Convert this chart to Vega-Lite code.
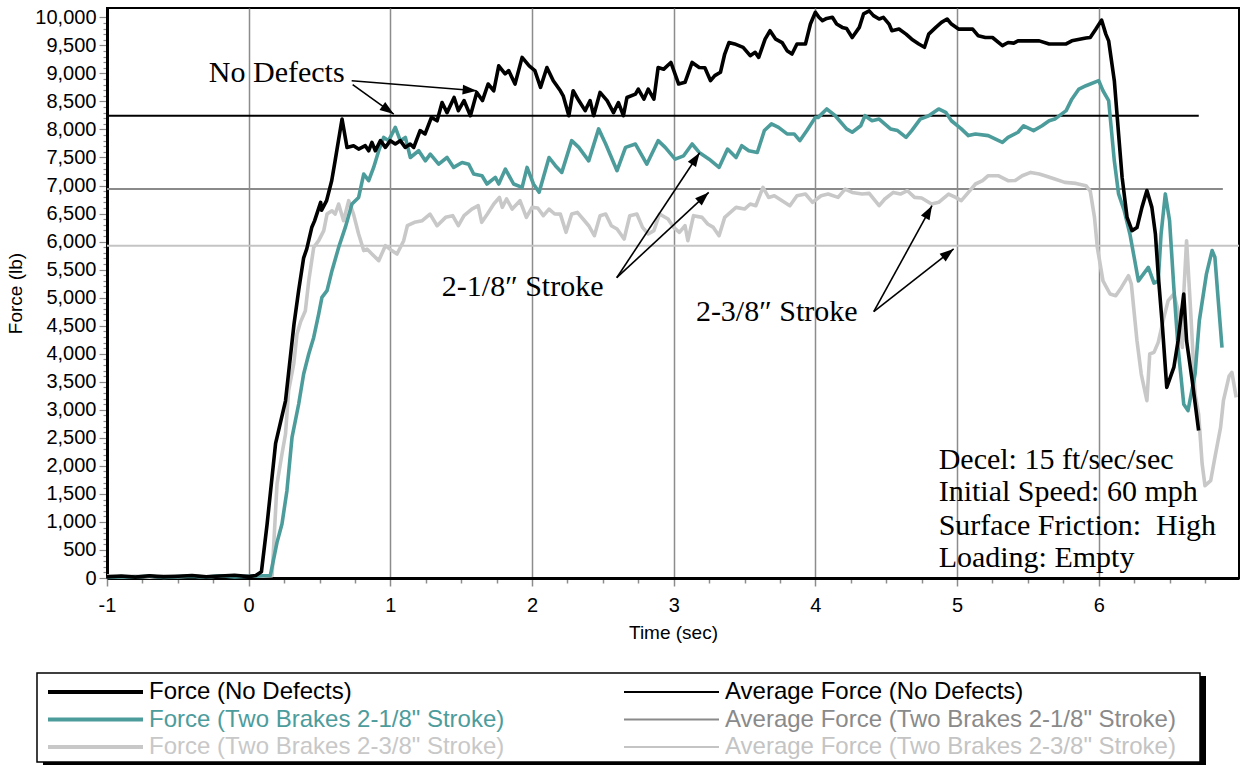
{
"$schema": "https://vega.github.io/schema/vega-lite/v6.json",
"background": "white",
"padding": {"left": 5, "top": 6, "right": 0, "bottom": 0},
"config": {"view": {"stroke": null}, "font": "Liberation Sans", "axis": {"labelOverlap": false, "labelBound": false, "labelFlush": false}},
"spacing": 29,
"resolve": {"scale": {"x": "independent", "y": "independent", "color": "independent"}},
"datasets": {
"avg": [
{"s":"AND","t0":-1,"t1":6.706,"F":8245},
{"s":"A21","t0":-1,"t1":6.876,"F":6937},
{"s":"A23","t0":-1,"t1":6.99,"F":5927}
],
"force": [
{"s":"S23","t":-1,"F":40},{"s":"S23","t":-0.9,"F":20},{"s":"S23","t":-0.8,"F":35},{"s":"S23","t":-0.7,"F":15},{"s":"S23","t":-0.6,"F":40},{"s":"S23","t":-0.5,"F":25},{"s":"S23","t":-0.4,"F":35},{"s":"S23","t":-0.3,"F":20},{"s":"S23","t":-0.2,"F":40},{"s":"S23","t":-0.1,"F":30},{"s":"S23","t":0,"F":35},{"s":"S23","t":0.1,"F":30},{"s":"S23","t":0.165,"F":40},{"s":"S23","t":0.2,"F":1676},{"s":"S23","t":0.235,"F":2211},{"s":"S23","t":0.26,"F":2568},{"s":"S23","t":0.282,"F":3340},{"s":"S23","t":0.318,"F":3817},{"s":"S23","t":0.341,"F":4351},{"s":"S23","t":0.365,"F":4559},{"s":"S23","t":0.4,"F":4767},{"s":"S23","t":0.424,"F":5300},{"s":"S23","t":0.459,"F":5896},{"s":"S23","t":0.494,"F":6016},{"s":"S23","t":0.53,"F":6195},{"s":"S23","t":0.553,"F":6490},{"s":"S23","t":0.588,"F":6550},{"s":"S23","t":0.61,"F":6490},{"s":"S23","t":0.635,"F":6670},{"s":"S23","t":0.67,"F":6373},{"s":"S23","t":0.706,"F":6730},{"s":"S23","t":0.74,"F":6490},{"s":"S23","t":0.776,"F":6135},{"s":"S23","t":0.812,"F":5840},{"s":"S23","t":0.835,"F":5866},{"s":"S23","t":0.87,"F":5778},{"s":"S23","t":0.918,"F":5660},{"s":"S23","t":0.965,"F":5927},{"s":"S23","t":1.01,"F":5840},{"s":"S23","t":1.047,"F":5778},{"s":"S23","t":1.094,"F":6016},{"s":"S23","t":1.12,"F":6283},{"s":"S23","t":1.17,"F":6343},{"s":"S23","t":1.225,"F":6373},{"s":"S23","t":1.28,"F":6490},{"s":"S23","t":1.33,"F":6283},{"s":"S23","t":1.39,"F":6432},{"s":"S23","t":1.44,"F":6462},{"s":"S23","t":1.48,"F":6283},{"s":"S23","t":1.52,"F":6462},{"s":"S23","t":1.575,"F":6580},{"s":"S23","t":1.62,"F":6640},{"s":"S23","t":1.645,"F":6343},{"s":"S23","t":1.685,"F":6492},{"s":"S23","t":1.73,"F":6670},{"s":"S23","t":1.77,"F":6788},{"s":"S23","t":1.79,"F":6610},{"s":"S23","t":1.82,"F":6760},{"s":"S23","t":1.86,"F":6580},{"s":"S23","t":1.915,"F":6730},{"s":"S23","t":1.96,"F":6432},{"s":"S23","t":2.0,"F":6610},{"s":"S23","t":2.04,"F":6600},{"s":"S23","t":2.08,"F":6462},{"s":"S23","t":2.12,"F":6580},{"s":"S23","t":2.16,"F":6492},{"s":"S23","t":2.2,"F":6490},{"s":"S23","t":2.24,"F":6165},{"s":"S23","t":2.28,"F":6492},{"s":"S23","t":2.32,"F":6520},{"s":"S23","t":2.36,"F":6403},{"s":"S23","t":2.4,"F":6283},{"s":"S23","t":2.44,"F":6105},{"s":"S23","t":2.48,"F":6462},{"s":"S23","t":2.52,"F":6492},{"s":"S23","t":2.56,"F":6283},{"s":"S23","t":2.6,"F":6224},{"s":"S23","t":2.65,"F":6046},{"s":"S23","t":2.69,"F":6462},{"s":"S23","t":2.74,"F":6492},{"s":"S23","t":2.78,"F":6253},{"s":"S23","t":2.82,"F":6135},{"s":"S23","t":2.86,"F":6195},{"s":"S23","t":2.9,"F":6492},{"s":"S23","t":2.96,"F":6403},{"s":"S23","t":3.0,"F":6253},{"s":"S23","t":3.04,"F":6165},{"s":"S23","t":3.08,"F":6283},{"s":"S23","t":3.1,"F":6016},{"s":"S23","t":3.14,"F":6462},{"s":"S23","t":3.2,"F":6432},{"s":"S23","t":3.24,"F":6313},{"s":"S23","t":3.28,"F":6253},{"s":"S23","t":3.32,"F":6105},{"s":"S23","t":3.36,"F":6432},{"s":"S23","t":3.4,"F":6520},{"s":"S23","t":3.44,"F":6610},{"s":"S23","t":3.5,"F":6580},{"s":"S23","t":3.54,"F":6670},{"s":"S23","t":3.58,"F":6640},{"s":"S23","t":3.63,"F":6966},{"s":"S23","t":3.67,"F":6788},{"s":"S23","t":3.71,"F":6818},{"s":"S23","t":3.765,"F":6730},{"s":"S23","t":3.82,"F":6640},{"s":"S23","t":3.87,"F":6818},{"s":"S23","t":3.93,"F":6848},{"s":"S23","t":3.98,"F":6700},{"s":"S23","t":4.04,"F":6818},{"s":"S23","t":4.09,"F":6848},{"s":"S23","t":4.16,"F":6788},{"s":"S23","t":4.21,"F":6937},{"s":"S23","t":4.26,"F":6877},{"s":"S23","t":4.33,"F":6848},{"s":"S23","t":4.38,"F":6860},{"s":"S23","t":4.45,"F":6640},{"s":"S23","t":4.49,"F":6760},{"s":"S23","t":4.55,"F":6877},{"s":"S23","t":4.6,"F":6848},{"s":"S23","t":4.65,"F":6907},{"s":"S23","t":4.7,"F":6788},{"s":"S23","t":4.75,"F":6777},{"s":"S23","t":4.82,"F":6670},{"s":"S23","t":4.87,"F":6700},{"s":"S23","t":4.94,"F":6848},{"s":"S23","t":4.99,"F":6788},{"s":"S23","t":5.03,"F":6730},{"s":"S23","t":5.08,"F":6877},{"s":"S23","t":5.13,"F":7027},{"s":"S23","t":5.18,"F":7086},{"s":"S23","t":5.22,"F":7175},{"s":"S23","t":5.29,"F":7175},{"s":"S23","t":5.36,"F":7086},{"s":"S23","t":5.41,"F":7090},{"s":"S23","t":5.46,"F":7175},{"s":"S23","t":5.52,"F":7234},{"s":"S23","t":5.58,"F":7205},{"s":"S23","t":5.62,"F":7175},{"s":"S23","t":5.69,"F":7116},{"s":"S23","t":5.76,"F":7056},{"s":"S23","t":5.84,"F":7038},{"s":"S23","t":5.91,"F":6997},{"s":"S23","t":5.94,"F":6900},{"s":"S23","t":5.97,"F":6432},{"s":"S23","t":5.99,"F":5896},{"s":"S23","t":6.03,"F":5300},{"s":"S23","t":6.08,"F":5065},{"s":"S23","t":6.12,"F":5035},{"s":"S23","t":6.16,"F":5183},{"s":"S23","t":6.21,"F":5392},{"s":"S23","t":6.23,"F":5243},{"s":"S23","t":6.27,"F":4232},{"s":"S23","t":6.3,"F":3638},{"s":"S23","t":6.34,"F":3162},{"s":"S23","t":6.36,"F":3995},{"s":"S23","t":6.39,"F":4024},{"s":"S23","t":6.42,"F":4202},{"s":"S23","t":6.46,"F":4648},{"s":"S23","t":6.49,"F":4946},{"s":"S23","t":6.53,"F":5065},{"s":"S23","t":6.56,"F":4767},{"s":"S23","t":6.59,"F":4113},{"s":"S23","t":6.6,"F":5065},{"s":"S23","t":6.62,"F":6016},{"s":"S23","t":6.65,"F":4708},{"s":"S23","t":6.68,"F":3282},{"s":"S23","t":6.705,"F":2925},{"s":"S23","t":6.73,"F":2033},{"s":"S23","t":6.75,"F":1646},{"s":"S23","t":6.79,"F":1735},{"s":"S23","t":6.82,"F":2151},{"s":"S23","t":6.86,"F":2686},{"s":"S23","t":6.88,"F":3162},{"s":"S23","t":6.92,"F":3600},{"s":"S23","t":6.94,"F":3667},{"s":"S23","t":6.97,"F":3221},
{"s":"S21","t":-1,"F":10},{"s":"S21","t":-0.9,"F":25},{"s":"S21","t":-0.8,"F":15},{"s":"S21","t":-0.7,"F":35},{"s":"S21","t":-0.6,"F":10},{"s":"S21","t":-0.5,"F":25},{"s":"S21","t":-0.4,"F":30},{"s":"S21","t":-0.3,"F":15},{"s":"S21","t":-0.2,"F":40},{"s":"S21","t":-0.1,"F":20},{"s":"S21","t":0,"F":30},{"s":"S21","t":0.1,"F":40},{"s":"S21","t":0.153,"F":45},{"s":"S21","t":0.2,"F":635},{"s":"S21","t":0.235,"F":963},{"s":"S21","t":0.27,"F":1557},{"s":"S21","t":0.306,"F":2508},{"s":"S21","t":0.353,"F":3103},{"s":"S21","t":0.388,"F":3638},{"s":"S21","t":0.424,"F":3995},{"s":"S21","t":0.459,"F":4291},{"s":"S21","t":0.494,"F":4708},{"s":"S21","t":0.517,"F":5005},{"s":"S21","t":0.553,"F":5124},{"s":"S21","t":0.588,"F":5481},{"s":"S21","t":0.635,"F":5896},{"s":"S21","t":0.682,"F":6253},{"s":"S21","t":0.729,"F":6670},{"s":"S21","t":0.776,"F":6788},{"s":"S21","t":0.812,"F":7205},{"s":"S21","t":0.847,"F":7086},{"s":"S21","t":0.882,"F":7323},{"s":"S21","t":0.918,"F":7621},{"s":"S21","t":0.953,"F":7858},{"s":"S21","t":0.988,"F":7800},{"s":"S21","t":1.035,"F":8036},{"s":"S21","t":1.07,"F":7800},{"s":"S21","t":1.106,"F":7858},{"s":"S21","t":1.141,"F":7500},{"s":"S21","t":1.2,"F":7620},{"s":"S21","t":1.247,"F":7440},{"s":"S21","t":1.282,"F":7560},{"s":"S21","t":1.341,"F":7380},{"s":"S21","t":1.4,"F":7500},{"s":"S21","t":1.447,"F":7323},{"s":"S21","t":1.506,"F":7410},{"s":"S21","t":1.553,"F":7380},{"s":"S21","t":1.588,"F":7205},{"s":"S21","t":1.647,"F":7175},{"s":"S21","t":1.682,"F":7027},{"s":"S21","t":1.741,"F":7145},{"s":"S21","t":1.765,"F":7027},{"s":"S21","t":1.812,"F":7294},{"s":"S21","t":1.87,"F":7027},{"s":"S21","t":1.93,"F":6966},{"s":"S21","t":1.965,"F":7323},{"s":"S21","t":2.01,"F":7027},{"s":"S21","t":2.05,"F":6880},{"s":"S21","t":2.12,"F":7500},{"s":"S21","t":2.165,"F":7354},{"s":"S21","t":2.21,"F":7234},{"s":"S21","t":2.28,"F":7800},{"s":"S21","t":2.33,"F":7680},{"s":"S21","t":2.4,"F":7440},{"s":"S21","t":2.47,"F":8010},{"s":"S21","t":2.52,"F":7740},{"s":"S21","t":2.6,"F":7264},{"s":"S21","t":2.66,"F":7680},{"s":"S21","t":2.73,"F":7740},{"s":"S21","t":2.81,"F":7380},{"s":"S21","t":2.89,"F":7800},{"s":"S21","t":2.94,"F":7680},{"s":"S21","t":3.01,"F":7470},{"s":"S21","t":3.07,"F":7530},{"s":"S21","t":3.13,"F":7740},{"s":"S21","t":3.18,"F":7590},{"s":"S21","t":3.25,"F":7470},{"s":"S21","t":3.32,"F":7323},{"s":"S21","t":3.38,"F":7650},{"s":"S21","t":3.44,"F":7500},{"s":"S21","t":3.48,"F":7710},{"s":"S21","t":3.53,"F":7620},{"s":"S21","t":3.59,"F":7590},{"s":"S21","t":3.64,"F":7980},{"s":"S21","t":3.69,"F":8100},{"s":"S21","t":3.74,"F":8036},{"s":"S21","t":3.8,"F":7920},{"s":"S21","t":3.85,"F":7920},{"s":"S21","t":3.89,"F":7800},{"s":"S21","t":3.94,"F":7980},{"s":"S21","t":4.0,"F":8215},{"s":"S21","t":4.02,"F":8215},{"s":"S21","t":4.08,"F":8365},{"s":"S21","t":4.14,"F":8245},{"s":"S21","t":4.22,"F":8010},{"s":"S21","t":4.26,"F":7950},{"s":"S21","t":4.32,"F":8065},{"s":"S21","t":4.35,"F":8245},{"s":"S21","t":4.4,"F":8155},{"s":"S21","t":4.45,"F":8185},{"s":"S21","t":4.53,"F":8010},{"s":"S21","t":4.58,"F":7980},{"s":"S21","t":4.64,"F":7860},{"s":"S21","t":4.68,"F":7980},{"s":"S21","t":4.74,"F":8185},{"s":"S21","t":4.8,"F":8245},{"s":"S21","t":4.87,"F":8365},{"s":"S21","t":4.92,"F":8305},{"s":"S21","t":4.96,"F":8155},{"s":"S21","t":5.03,"F":8010},{"s":"S21","t":5.08,"F":7890},{"s":"S21","t":5.13,"F":7920},{"s":"S21","t":5.22,"F":7890},{"s":"S21","t":5.32,"F":7770},{"s":"S21","t":5.36,"F":7860},{"s":"S21","t":5.43,"F":7950},{"s":"S21","t":5.47,"F":8065},{"s":"S21","t":5.54,"F":7980},{"s":"S21","t":5.6,"F":8065},{"s":"S21","t":5.65,"F":8155},{"s":"S21","t":5.69,"F":8185},{"s":"S21","t":5.77,"F":8335},{"s":"S21","t":5.81,"F":8540},{"s":"S21","t":5.86,"F":8720},{"s":"S21","t":5.91,"F":8780},{"s":"S21","t":6.0,"F":8870},{"s":"S21","t":6.03,"F":8690},{"s":"S21","t":6.07,"F":8515},{"s":"S21","t":6.11,"F":7440},{"s":"S21","t":6.14,"F":6850},{"s":"S21","t":6.18,"F":6550},{"s":"S21","t":6.22,"F":6135},{"s":"S21","t":6.25,"F":5720},{"s":"S21","t":6.28,"F":5300},{"s":"S21","t":6.35,"F":5540},{"s":"S21","t":6.39,"F":5260},{"s":"S21","t":6.42,"F":5300},{"s":"S21","t":6.44,"F":6135},{"s":"S21","t":6.47,"F":6850},{"s":"S21","t":6.5,"F":6370},{"s":"S21","t":6.53,"F":5180},{"s":"S21","t":6.56,"F":4110},{"s":"S21","t":6.6,"F":3100},{"s":"S21","t":6.63,"F":2985},{"s":"S21","t":6.68,"F":3640},{"s":"S21","t":6.71,"F":4590},{"s":"S21","t":6.76,"F":5420},{"s":"S21","t":6.8,"F":5840},{"s":"S21","t":6.82,"F":5720},{"s":"S21","t":6.84,"F":5065},{"s":"S21","t":6.87,"F":4110},
{"s":"ND","t":-1,"F":20},{"s":"ND","t":-0.9,"F":35},{"s":"ND","t":-0.8,"F":15},{"s":"ND","t":-0.7,"F":40},{"s":"ND","t":-0.6,"F":20},{"s":"ND","t":-0.5,"F":30},{"s":"ND","t":-0.4,"F":45},{"s":"ND","t":-0.3,"F":20},{"s":"ND","t":-0.2,"F":35},{"s":"ND","t":-0.1,"F":50},{"s":"ND","t":0,"F":25},{"s":"ND","t":0.05,"F":45},{"s":"ND","t":0.09,"F":110},{"s":"ND","t":0.13,"F":960},{"s":"ND","t":0.19,"F":2400},{"s":"ND","t":0.26,"F":3160},{"s":"ND","t":0.32,"F":4530},{"s":"ND","t":0.353,"F":5130},{"s":"ND","t":0.388,"F":5710},{"s":"ND","t":0.41,"F":5870},{"s":"ND","t":0.445,"F":6250},{"s":"ND","t":0.465,"F":6370},{"s":"ND","t":0.508,"F":6700},{"s":"ND","t":0.515,"F":6560},{"s":"ND","t":0.55,"F":6730},{"s":"ND","t":0.586,"F":7085},{"s":"ND","t":0.61,"F":7440},{"s":"ND","t":0.659,"F":8186},{"s":"ND","t":0.694,"F":7680},{"s":"ND","t":0.74,"F":7710},{"s":"ND","t":0.776,"F":7650},{"s":"ND","t":0.823,"F":7710},{"s":"ND","t":0.847,"F":7620},{"s":"ND","t":0.87,"F":7770},{"s":"ND","t":0.894,"F":7620},{"s":"ND","t":0.93,"F":7800},{"s":"ND","t":0.965,"F":7680},{"s":"ND","t":1.0,"F":7800},{"s":"ND","t":1.035,"F":7740},{"s":"ND","t":1.07,"F":7800},{"s":"ND","t":1.105,"F":7680},{"s":"ND","t":1.14,"F":7740},{"s":"ND","t":1.165,"F":7680},{"s":"ND","t":1.21,"F":7980},{"s":"ND","t":1.245,"F":7920},{"s":"ND","t":1.29,"F":8215},{"s":"ND","t":1.33,"F":8155},{"s":"ND","t":1.365,"F":8480},{"s":"ND","t":1.4,"F":8300},{"s":"ND","t":1.45,"F":8570},{"s":"ND","t":1.48,"F":8335},{"s":"ND","t":1.52,"F":8515},{"s":"ND","t":1.565,"F":8245},{"s":"ND","t":1.61,"F":8660},{"s":"ND","t":1.65,"F":8515},{"s":"ND","t":1.69,"F":8810},{"s":"ND","t":1.73,"F":8690},{"s":"ND","t":1.765,"F":9135},{"s":"ND","t":1.81,"F":8990},{"s":"ND","t":1.835,"F":9050},{"s":"ND","t":1.88,"F":8810},{"s":"ND","t":1.93,"F":9285},{"s":"ND","t":1.98,"F":9135},{"s":"ND","t":2.02,"F":9050},{"s":"ND","t":2.06,"F":8750},{"s":"ND","t":2.105,"F":9105},{"s":"ND","t":2.15,"F":8870},{"s":"ND","t":2.2,"F":8690},{"s":"ND","t":2.22,"F":8600},{"s":"ND","t":2.26,"F":8245},{"s":"ND","t":2.29,"F":8690},{"s":"ND","t":2.33,"F":8515},{"s":"ND","t":2.375,"F":8335},{"s":"ND","t":2.41,"F":8515},{"s":"ND","t":2.435,"F":8245},{"s":"ND","t":2.48,"F":8660},{"s":"ND","t":2.53,"F":8515},{"s":"ND","t":2.575,"F":8300},{"s":"ND","t":2.61,"F":8480},{"s":"ND","t":2.645,"F":8245},{"s":"ND","t":2.67,"F":8570},{"s":"ND","t":2.73,"F":8630},{"s":"ND","t":2.75,"F":8720},{"s":"ND","t":2.79,"F":8540},{"s":"ND","t":2.82,"F":8720},{"s":"ND","t":2.86,"F":8540},{"s":"ND","t":2.89,"F":9105},{"s":"ND","t":2.93,"F":9075},{"s":"ND","t":2.98,"F":9195},{"s":"ND","t":3.035,"F":8810},{"s":"ND","t":3.08,"F":8840},{"s":"ND","t":3.13,"F":9195},{"s":"ND","t":3.18,"F":9105},{"s":"ND","t":3.22,"F":9100},{"s":"ND","t":3.26,"F":8870},{"s":"ND","t":3.29,"F":8960},{"s":"ND","t":3.33,"F":9020},{"s":"ND","t":3.36,"F":9345},{"s":"ND","t":3.39,"F":9550},{"s":"ND","t":3.43,"F":9525},{"s":"ND","t":3.49,"F":9465},{"s":"ND","t":3.54,"F":9315},{"s":"ND","t":3.575,"F":9375},{"s":"ND","t":3.6,"F":9285},{"s":"ND","t":3.645,"F":9610},{"s":"ND","t":3.68,"F":9760},{"s":"ND","t":3.72,"F":9610},{"s":"ND","t":3.765,"F":9550},{"s":"ND","t":3.8,"F":9405},{"s":"ND","t":3.835,"F":9345},{"s":"ND","t":3.87,"F":9525},{"s":"ND","t":3.93,"F":9525},{"s":"ND","t":3.965,"F":9880},{"s":"ND","t":4.0,"F":10090},{"s":"ND","t":4.025,"F":10000},{"s":"ND","t":4.05,"F":9940},{"s":"ND","t":4.08,"F":9980},{"s":"ND","t":4.12,"F":10000},{"s":"ND","t":4.15,"F":9880},{"s":"ND","t":4.19,"F":9820},{"s":"ND","t":4.22,"F":9800},{"s":"ND","t":4.26,"F":9640},{"s":"ND","t":4.31,"F":9820},{"s":"ND","t":4.34,"F":10060},{"s":"ND","t":4.38,"F":10115},{"s":"ND","t":4.41,"F":10030},{"s":"ND","t":4.45,"F":9970},{"s":"ND","t":4.48,"F":10000},{"s":"ND","t":4.52,"F":9880},{"s":"ND","t":4.54,"F":9760},{"s":"ND","t":4.59,"F":9790},{"s":"ND","t":4.64,"F":9700},{"s":"ND","t":4.68,"F":9610},{"s":"ND","t":4.73,"F":9525},{"s":"ND","t":4.77,"F":9465},{"s":"ND","t":4.8,"F":9700},{"s":"ND","t":4.85,"F":9820},{"s":"ND","t":4.89,"F":9910},{"s":"ND","t":4.93,"F":9970},{"s":"ND","t":4.96,"F":9880},{"s":"ND","t":5.01,"F":9790},{"s":"ND","t":5.11,"F":9790},{"s":"ND","t":5.15,"F":9670},{"s":"ND","t":5.2,"F":9640},{"s":"ND","t":5.25,"F":9640},{"s":"ND","t":5.32,"F":9495},{"s":"ND","t":5.36,"F":9550},{"s":"ND","t":5.4,"F":9540},{"s":"ND","t":5.43,"F":9580},{"s":"ND","t":5.5,"F":9580},{"s":"ND","t":5.58,"F":9580},{"s":"ND","t":5.65,"F":9525},{"s":"ND","t":5.77,"F":9525},{"s":"ND","t":5.81,"F":9580},{"s":"ND","t":5.91,"F":9630},{"s":"ND","t":5.94,"F":9640},{"s":"ND","t":5.98,"F":9790},{"s":"ND","t":6.02,"F":9950},{"s":"ND","t":6.05,"F":9700},{"s":"ND","t":6.07,"F":9580},{"s":"ND","t":6.11,"F":8870},{"s":"ND","t":6.14,"F":7920},{"s":"ND","t":6.165,"F":7145},{"s":"ND","t":6.2,"F":6430},{"s":"ND","t":6.235,"F":6195},{"s":"ND","t":6.27,"F":6250},{"s":"ND","t":6.305,"F":6610},{"s":"ND","t":6.34,"F":6910},{"s":"ND","t":6.375,"F":6610},{"s":"ND","t":6.4,"F":6135},{"s":"ND","t":6.42,"F":5400},{"s":"ND","t":6.45,"F":4470},{"s":"ND","t":6.48,"F":3400},{"s":"ND","t":6.53,"F":3755},{"s":"ND","t":6.56,"F":4230},{"s":"ND","t":6.6,"F":5065},{"s":"ND","t":6.62,"F":4230},{"s":"ND","t":6.66,"F":3520},{"s":"ND","t":6.705,"F":2630}
],
"notes": [
{"txt":"No Defects","t":0.198,"F":8839},
{"txt":"2-1/8″ Stroke","t":1.934,"F":5035},
{"txt":"2-3/8″ Stroke","t":3.727,"F":4589}
],
"info": [
{"txt":"Decel: 15 ft/sec/sec","t":4.87,"F":1944},
{"txt":"Initial Speed: 60 mph","t":4.87,"F":1366},
{"txt":"Surface Friction:\u00a0 High","t":4.87,"F":772},
{"txt":"Loading: Empty","t":4.87,"F":189}
],
"arrows": [
{"t1":0.727,"F1":8869,"t2":1.609,"F2":8691},
{"t1":0.734,"F1":8798,"t2":1.024,"F2":8275},
{"t1":2.598,"F1":5356,"t2":3.183,"F2":7585},
{"t1":2.598,"F1":5356,"t2":3.247,"F2":6877},
{"t1":4.412,"F1":4749,"t2":4.823,"F2":6640},
{"t1":4.412,"F1":4749,"t2":4.976,"F2":5868}
],
"legend": [
{"label":"Force (No Defects)","s":"ND","kind":"force","col":0,"row":0},
{"label":"Force (Two Brakes 2-1/8\" Stroke)","s":"S21","kind":"force","col":0,"row":1},
{"label":"Force (Two Brakes 2-3/8\" Stroke)","s":"S23","kind":"force","col":0,"row":2},
{"label":"Average Force (No Defects)","s":"AND","kind":"avg","col":1,"row":0},
{"label":"Average Force (Two Brakes 2-1/8\" Stroke)","s":"A21","kind":"avg","col":1,"row":1},
{"label":"Average Force (Two Brakes 2-3/8\" Stroke)","s":"A23","kind":"avg","col":1,"row":2}
]
},
"vconcat": [
{
"width": 1132,
"height": 570,
"view": {"stroke": "black", "strokeWidth": 2},
"layer": [
{
"data": {"name": "avg"},
"mark": {"type": "rule", "strokeWidth": 2},
"encoding": {
"x": {"field": "t0", "type": "quantitative", "title": "Time (sec)",
 "scale": {"domain": [-1, 6.99], "nice": false, "zero": false},
 "axis": {
  "values": [-1,-0.75,-0.5,-0.25,0,0.25,0.5,0.75,1,1.25,1.5,1.75,2,2.25,2.5,2.75,3,3.25,3.5,3.75,4,4.25,4.5,4.75,5,5.25,5.5,5.75,6,6.25,6.5,6.75],
  "tickCount": 500,
  "labelExpr": "datum.value % 1 === 0 ? '' + datum.value : ''",
  "labelFont": "Liberation Sans", "labelFontSize": 20, "labelColor": "black", "labelPadding": 9, "labelOverlap": false, "labelFlush": false, "labelBound": false,
  "tickColor": "#8c8c8c", "tickWidth": 1.5,
  "tickSize": {"condition": {"test": "datum.value % 1 === 0", "value": 8}, "value": 5},
  "grid": true, "gridColor": "#8c8c8c", "gridWidth": 1.5,
  "gridOpacity": {"condition": {"test": "datum.value % 1 === 0 && datum.value > -1", "value": 1}, "value": 0},
  "domainColor": "black", "domainWidth": 3,
  "titleFont": "Liberation Sans", "titleFontSize": 19, "titleFontWeight": "normal", "titlePadding": 8, "titleColor": "black"
 }},
"x2": {"field": "t1"},
"y": {"field": "F", "type": "quantitative", "title": "Force (lb)",
 "scale": {"domain": [0, 10166], "nice": false, "zero": false},
 "axis": {
  "values": [0,100,200,300,400,500,600,700,800,900,1000,1100,1200,1300,1400,1500,1600,1700,1800,1900,2000,2100,2200,2300,2400,2500,2600,2700,2800,2900,3000,3100,3200,3300,3400,3500,3600,3700,3800,3900,4000,4100,4200,4300,4400,4500,4600,4700,4800,4900,5000,5100,5200,5300,5400,5500,5600,5700,5800,5900,6000,6100,6200,6300,6400,6500,6600,6700,6800,6900,7000,7100,7200,7300,7400,7500,7600,7700,7800,7900,8000,8100,8200,8300,8400,8500,8600,8700,8800,8900,9000,9100,9200,9300,9400,9500,9600,9700,9800,9900,10000],
  "tickCount": 500,
  "labelExpr": "datum.value % 500 === 0 ? format(datum.value, ',') : ''",
  "labelFont": "Liberation Sans", "labelFontSize": 20, "labelColor": "black", "labelPadding": 3, "labelOverlap": false, "labelBound": false,
  "tickColor": "#8c8c8c", "tickWidth": 1.2,
  "tickSize": {"condition": {"test": "datum.value % 500 === 0", "value": 8}, "value": 4},
  "grid": false,
  "domainColor": "black", "domainWidth": 3,
  "titleFont": "Liberation Sans", "titleFontSize": 19, "titleFontWeight": "normal", "titlePadding": 9, "titleColor": "black"
 }},
"color": {"field": "s", "type": "nominal", "legend": null,
 "scale": {"domain": ["ND","S21","S23","AND","A21","A23"], "range": ["#000000","#4d9c9c","#c8c8c8","#000000","#8a8a8a","#c4c4c4"]}}
}
},
{
"data": {"name": "force"},
"mark": {"type": "line", "strokeWidth": 3.6, "strokeJoin": "round"},
"encoding": {
"x": {"field": "t", "type": "quantitative", "title": "Time (sec)"},
"y": {"field": "F", "type": "quantitative", "title": "Force (lb)"},
"color": {"field": "s", "type": "nominal", "legend": null}
}
},
{
"data": {"name": "notes"},
"mark": {"type": "text", "font": "Liberation Serif", "fontSize": 30, "align": "center", "baseline": "alphabetic", "color": "black"},
"encoding": {
"x": {"field": "t", "type": "quantitative", "title": "Time (sec)"},
"y": {"field": "F", "type": "quantitative", "title": "Force (lb)"},
"text": {"field": "txt"}
}
},
{
"data": {"name": "info"},
"mark": {"type": "text", "font": "Liberation Serif", "fontSize": 30, "align": "left", "baseline": "alphabetic", "color": "black"},
"encoding": {
"x": {"field": "t", "type": "quantitative", "title": "Time (sec)"},
"y": {"field": "F", "type": "quantitative", "title": "Force (lb)"},
"text": {"field": "txt"}
}
},
{
"data": {"name": "arrows"},
"mark": {"type": "rule", "color": "black", "strokeWidth": 1.6},
"encoding": {
"x": {"field": "t1", "type": "quantitative", "title": "Time (sec)"},
"y": {"field": "F1", "type": "quantitative", "title": "Force (lb)"},
"x2": {"field": "t2"},
"y2": {"field": "F2"}
}
},
{
"data": {"name": "arrows"},
"transform": [{"calculate": "atan2((datum.t2 - datum.t1) * 141.67, (datum.F2 - datum.F1) * 0.05607) * 180 / PI", "as": "ang"}],
"mark": {"type": "point", "shape": "M0,0L-0.7,2L0.7,2Z", "filled": true, "color": "black", "opacity": 1, "size": 196, "strokeWidth": 0},
"encoding": {
"x": {"field": "t2", "type": "quantitative", "title": "Time (sec)"},
"y": {"field": "F2", "type": "quantitative", "title": "Force (lb)"},
"angle": {"field": "ang", "type": "quantitative", "scale": null}
}
}
]
},
{
"width": 1093,
"height": 89,
"layer": [
{
"data": {"values": [{}]},
"mark": {"type": "rect", "fill": "black", "xOffset": 6, "x2Offset": 6, "yOffset": 3, "y2Offset": 3},
"encoding": {
"x": {"datum": -0.0191, "type": "quantitative", "scale": {"domain": [0, 1], "range": [-59, 517]}, "axis": null},
"x2": {"datum": 2.0},
"y": {"datum": -0.6909, "type": "quantitative", "scale": {"domain": [0, 2], "range": [19, 74]}, "axis": null},
"y2": {"datum": 2.5455}
}
},
{
"data": {"values": [{}]},
"mark": {"type": "rect", "fill": "white", "stroke": "black", "strokeWidth": 1.5},
"encoding": {
"x": {"datum": -0.0191, "type": "quantitative"},
"x2": {"datum": 2.0},
"y": {"datum": -0.6909, "type": "quantitative"},
"y2": {"datum": 2.5455}
}
},
{
"data": {"name": "legend"},
"mark": {"type": "rule", "x2Offset": 95},
"encoding": {
"x": {"field": "col", "type": "quantitative"},
"x2": {"field": "col"},
"y": {"field": "row", "type": "quantitative"},
"color": {"field": "s", "type": "nominal", "legend": null,
 "scale": {"domain": ["ND","S21","S23","AND","A21","A23"], "range": ["#000000","#4d9c9c","#c8c8c8","#000000","#8a8a8a","#c4c4c4"]}},
"strokeWidth": {"field": "kind", "type": "nominal", "legend": null, "scale": {"domain": ["force", "avg"], "range": [4, 2]}}
}
},
{
"data": {"name": "legend"},
"mark": {"type": "text", "align": "left", "baseline": "middle", "dx": 101, "font": "Liberation Sans", "fontSize": 24},
"encoding": {
"x": {"field": "col", "type": "quantitative"},
"y": {"field": "row", "type": "quantitative"},
"color": {"field": "s", "type": "nominal", "legend": null},
"text": {"field": "label"}
}
}
]
}
]
}
